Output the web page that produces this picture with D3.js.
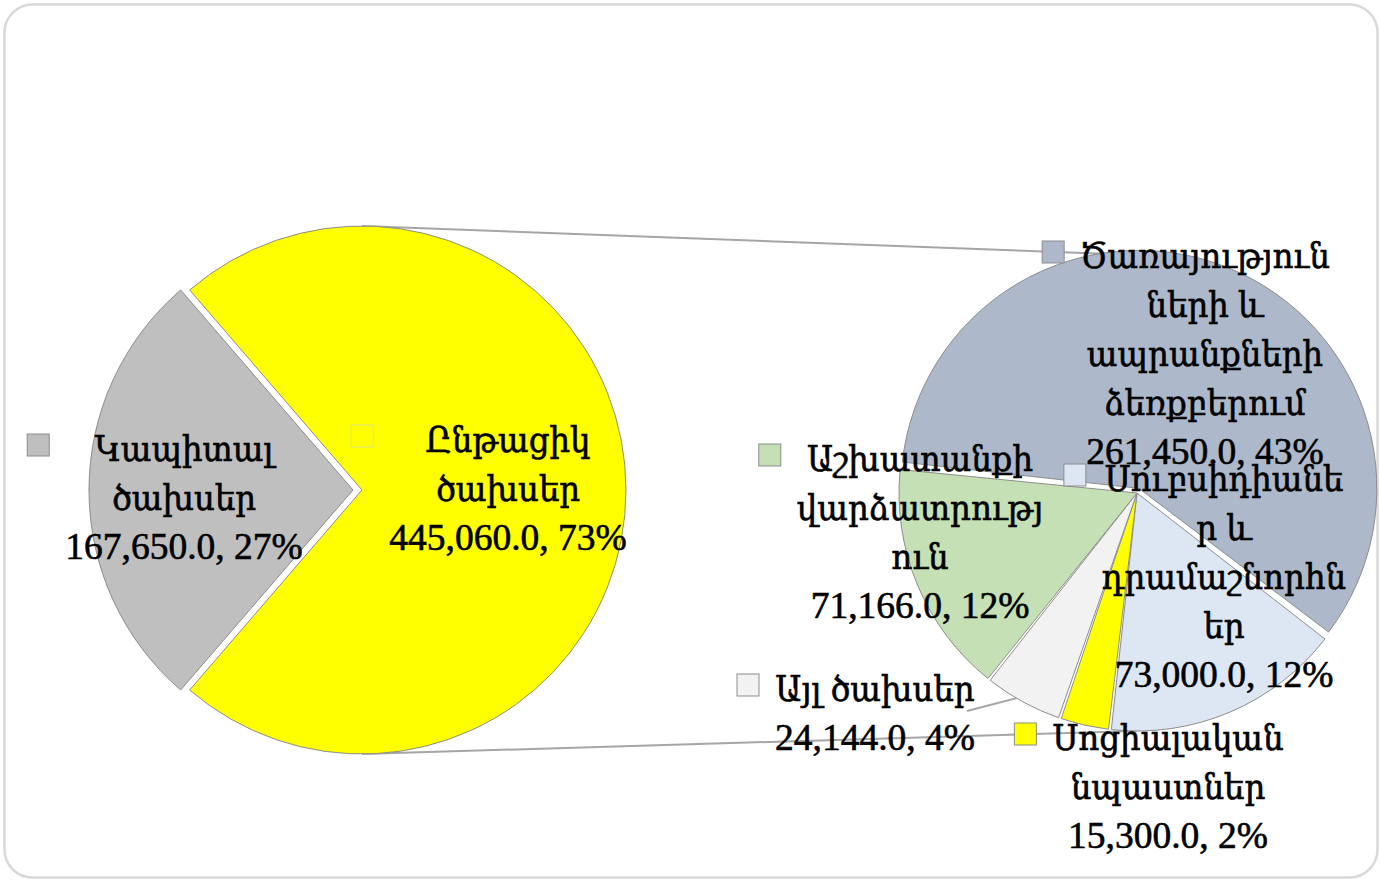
<!DOCTYPE html>
<html>
<head>
<meta charset="utf-8">
<script src="https://cdn.jsdelivr.net/npm/d3@7/dist/d3.min.js"></script>
<style>
  body { margin: 0; background: #fff; }
  text { font-family: "Liberation Serif", "DejaVu Serif", serif; fill: #000; stroke: #000; stroke-width: 0.6px; }
  .arm { font-stretch: condensed; font-size: 36px; }
  .num { font-size: 37.5px; }
</style>
</head>
<body>
<div id="chart"></div>
<script>
// main pie: capital vs current spending
var mainNames = ["Կապիտալ ծախսեր", "Ընթացիկ ծախսեր"]
var mainValues = [167650.0, 445060.0]
var mainColors = ["#bfbfbf", "#ffff00"]
var mainLines = [["Կապիտալ", "ծախսեր"], ["Ընթացիկ", "ծախսեր"]]

// second pie: what the current spending is made of
var subNames = ["Ծառայությունների և ապրանքների ձեռքբերում", "Սուբսիդիաներ և դրամաշնորհներ",
                "Սոցիալական նպաստներ", "Այլ ծախսեր", "Աշխատանքի վարձատրություն"]
var subValues = [261450.0, 73000.0, 15300.0, 24144.0, 71166.0]
var subColors = ["#adb9ca", "#dde7f4", "#ffff00", "#f2f2f2", "#c5e0b4"]
// label lines wrapped the same way as in the original
var subLines = [["Ծառայություն", "ների  և", "ապրանքների", "ձեռքբերում"],
                ["Սուբսիդիանե", "ր և", "դրամաշնորհն", "եր"],
                ["Սոցիալական", "նպաստներ"],
                ["Այլ ծախսեր"],
                ["Աշխատանքի", "վարձատրությ", "ուն"]]

var total = d3.sum(mainValues)
var fmt = d3.format(",.1f")
var pct = v => Math.round(v / total * 100) + "%"

var W = 1380, H = 880
var svg = d3.select("#chart").append("svg")
    .attr("width", W).attr("height", H)

// rounded frame
svg.append("rect")
    .attr("x", 4.5).attr("y", 4.5)
    .attr("width", 1373).attr("height", 873)
    .attr("rx", 28)
    .attr("fill", "#fff")
    .attr("stroke", "#d9d9d9")
    .attr("stroke-width", 2.5)

// geometry
var c1 = {x: 353, y: 490, r: 264}
var c2 = {x: 1137, y: 493, r: 238}
var explode1 = [0, 9]          // yellow slice pulled right
var explode2 = [5, 0, 0, 0, 0]  // services slice pulled out a bit
var rad = d => d * Math.PI / 180

var pie1 = d3.pie().sort(null).startAngle(rad(-139.25)).endAngle(rad(220.75))
var pie2 = d3.pie().sort(null).startAngle(rad(-84)).endAngle(rad(276))
var arcs1 = pie1(mainValues)
var arcs2 = pie2(subValues)

var arc1 = d3.arc().innerRadius(0).outerRadius(c1.r)
var arc2 = d3.arc().innerRadius(0).outerRadius(c2.r).padAngle(0.012)

function offset(d, dist) {
  var m = (d.startAngle + d.endAngle) / 2
  return [Math.sin(m) * dist, -Math.cos(m) * dist]
}

// connector lines between the two pies (drawn first, under the slices)
var yo = offset(arcs1[1], explode1[1])
var conn = svg.append("g")
    .attr("stroke", "#a6a6a6").attr("stroke-width", 2).attr("fill", "none")
conn.append("line")
    .attr("x1", c1.x + yo[0]).attr("y1", c1.y - c1.r)
    .attr("x2", c2.x).attr("y2", c2.y - c2.r)
conn.append("line")
    .attr("x1", c1.x + yo[0]).attr("y1", c1.y + c1.r)
    .attr("x2", c2.x).attr("y2", c2.y + c2.r)

// leader for "other" slice, positioned after labels are laid out
var leader = svg.append("line")
    .attr("stroke", "#a6a6a6").attr("stroke-width", 2)

// first pie
svg.append("g").selectAll("path")
    .data(arcs1)
  .enter().append("path")
    .attr("d", arc1)
    .attr("transform", (d, i) => {
      var o = offset(d, explode1[i])
      return "translate(" + (c1.x + o[0]) + "," + (c1.y + o[1]) + ")"
    })
    .attr("fill", (d, i) => mainColors[i])
    .attr("stroke", "#8c8c8c")
    .attr("stroke-width", 1)

// second pie
svg.append("g").selectAll("path")
    .data(arcs2)
  .enter().append("path")
    .attr("d", arc2)
    .attr("transform", (d, i) => {
      var o = offset(d, explode2[i])
      return "translate(" + (c2.x + o[0]) + "," + (c2.y + o[1]) + ")"
    })
    .attr("fill", (d, i) => subColors[i])
    .attr("stroke", "#8c8c8c")
    .attr("stroke-width", 1)

// label placement: center x of text block, first baseline
var mainPos = [[184, 461], [508, 452]]
var subPos = [[1205, 268], [1224, 491], [1168, 750], [875, 701], [920, 471]]
var lineH = 49

var labels = []
mainLines.forEach((l, i) => labels.push({
  lines: l, num: fmt(mainValues[i]) + ", " + pct(mainValues[i]),
  pos: mainPos[i], color: mainColors[i], key: i == 1 ? "#e0e090" : "#8c8c8c"
}))
subLines.forEach((l, i) => labels.push({
  lines: l, num: fmt(subValues[i]) + ", " + pct(subValues[i]),
  pos: subPos[i], color: subColors[i], key: "#8c8c8c"
}))

labels.forEach(function(lb) {
  var g = svg.append("g")
  var t = g.append("text")
      .attr("text-anchor", "middle")
  lb.lines.forEach((s, j) => {
    t.append("tspan").attr("class", "arm")
      .attr("x", lb.pos[0])
      .attr("y", lb.pos[1] + j * lineH)
      .text(s)
  })
  t.append("tspan").attr("class", "num")
    .attr("x", lb.pos[0])
    .attr("y", lb.pos[1] + lb.lines.length * lineH)
    .text(lb.num)
  var widest = d3.max(t.selectAll("tspan").nodes(), n => n.getComputedTextLength())
  var left = lb.pos[0] - widest / 2
  g.insert("rect", "text")
      .attr("x", left - 38).attr("y", lb.pos[1] - 27)
      .attr("width", 22).attr("height", 22)
      .attr("fill", lb.color)
      .attr("stroke", lb.key)
      .attr("stroke-width", 1)
  lb.right = lb.pos[0] + widest / 2
})

var oth = arcs2[3]
var om = (oth.startAngle + oth.endAngle) / 2
var ol = labels[2 + 3]
leader
    .attr("x1", ol.right - 8).attr("y1", ol.pos[1] + 10)
    .attr("x2", c2.x + Math.sin(om) * c2.r * 0.97)
    .attr("y2", c2.y - Math.cos(om) * c2.r * 0.97)
</script>
</body>
</html>
